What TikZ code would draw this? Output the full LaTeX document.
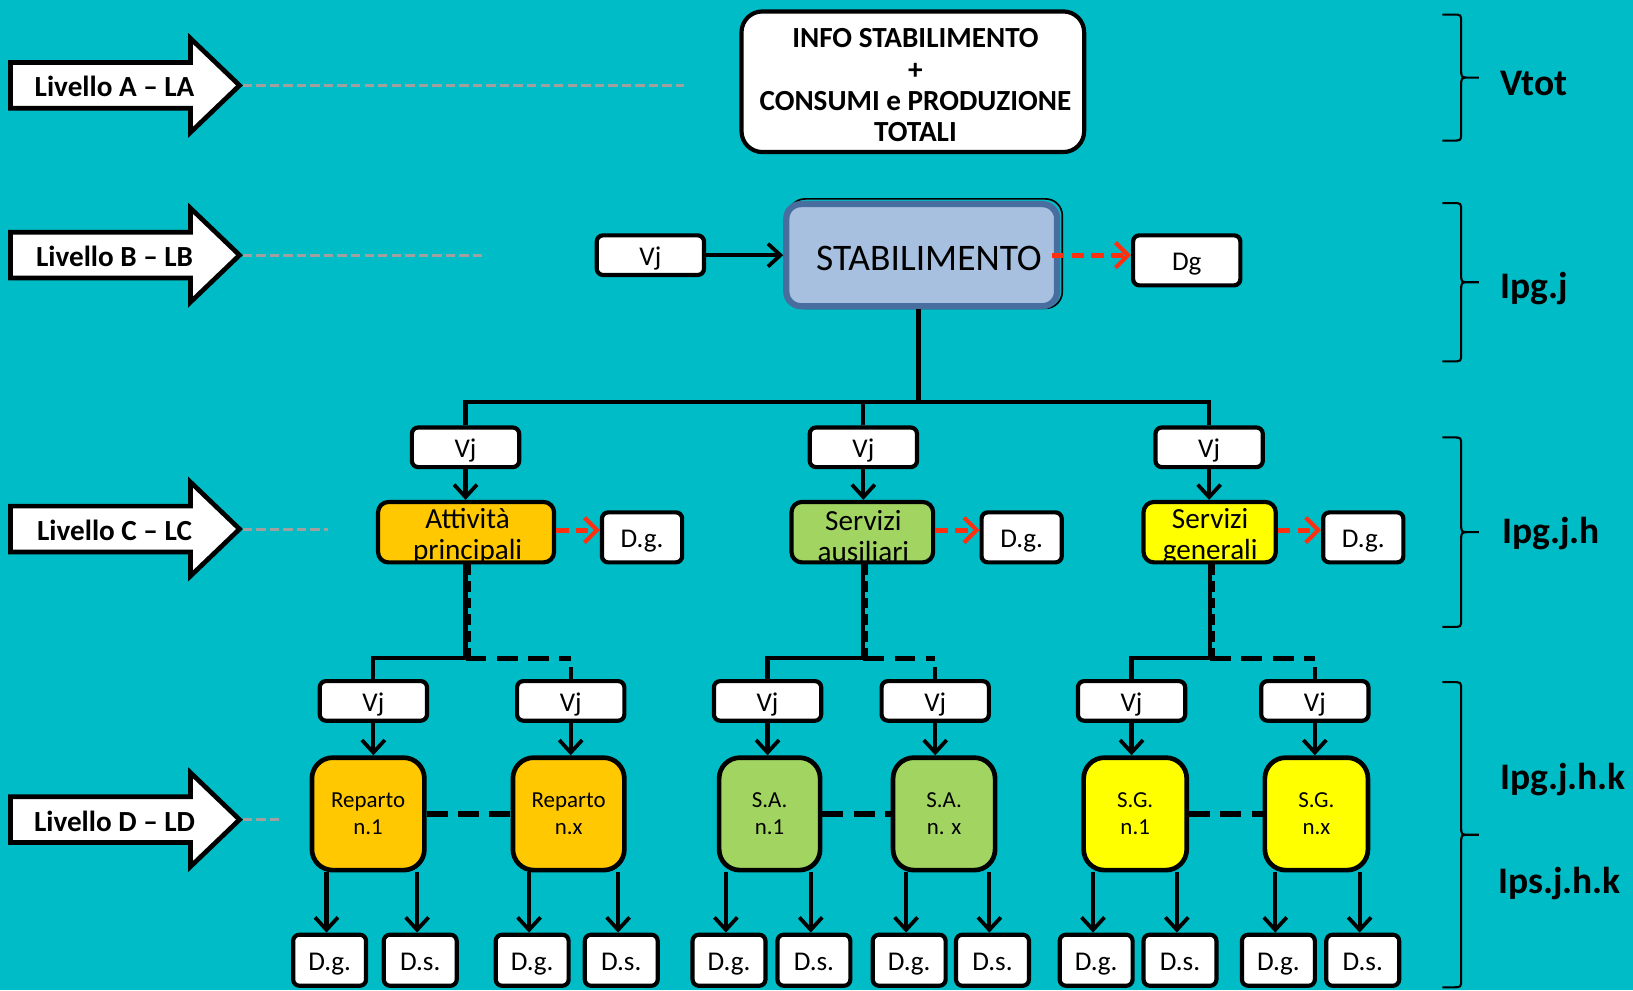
\documentclass[tikz,border=0pt]{standalone}
\usepackage{fontspec}
\setmainfont{Carlito}
\usetikzlibrary{arrows.meta,calc}
\definecolor{bgc}{RGB}{0,188,198}
\definecolor{orangeY}{RGB}{255,200,0}
\definecolor{greenA}{RGB}{162,212,98}
\definecolor{yellowG}{RGB}{255,255,0}
\definecolor{stabfill}{RGB}{168,192,224}
\definecolor{stabline}{RGB}{72,110,160}
\definecolor{redA}{RGB}{255,48,16}
\definecolor{grayL}{RGB}{160,160,160}
\begin{document}
\begin{tikzpicture}[x=0.5pt,y=-0.5pt,
  every node/.style={inner sep=0pt,align=center},
  wbox/.style={draw=black,line width=2pt,fill=white,rounded corners=3pt},
  lowtext/.style={text height=9.8pt,text depth=0pt},
  vjbox/.style={wbox,lowtext,minimum width=51.5pt,minimum height=19pt,font=\fontsize{13pt}{15pt}\selectfont},
  leaf/.style={wbox,lowtext,minimum width=35pt,minimum height=24.5pt,font=\fontsize{13pt}{15pt}\selectfont},
  dgbox/.style={wbox,lowtext,minimum height=24pt,font=\fontsize{13pt}{15pt}\selectfont},
  cbox/.style={draw=black,line width=2pt,rounded corners=5pt,minimum height=29pt},
  ctext/.style={font=\fontsize{14pt}{15pt}\selectfont},
  dbox/.style={draw=black,line width=2.25pt,rounded corners=10pt,minimum height=54pt,font=\fontsize{11pt}{13pt}\selectfont},
  conn/.style={line width=2pt,draw=black},
  arr/.style={conn,-{Straight Barb[length=6pt,width=11pt,line width=1.8pt]}},
  redarr/.style={line width=2.4pt,draw=redA,dash pattern=on 6pt off 3.5pt,-{Straight Barb[length=6pt,width=12pt,line width=2pt,color=redA]}},
  dashv/.style={line width=1.8pt,draw=black,dash pattern=on 5pt off 3pt},
  dashh/.style={line width=2.5pt,draw=black,dash pattern=on 10pt off 5pt},
  grayd/.style={line width=1.4pt,draw=grayL,dash pattern=on 4.5pt off 2pt},
  blockarr/.style={draw=black,fill=white,line width=2.25pt,miter limit=10},
  llab/.style={font=\bfseries\fontsize{14pt}{15pt}\selectfont,anchor=base},
  rlab/.style={font=\bfseries\fontsize{18pt}{20pt}\selectfont,anchor=base west},
  bracest/.style={line width=1pt,draw=black}
]
\fill[bgc] (0,0) rectangle (1568,951);
\useasboundingbox (0,0) rectangle (1568,951);

% ---- level block arrows
\foreach \c/\t/\nm in {82/Livello A -- LA/la, 245/Livello B -- LB/lb, 508/Livello C -- LC/lc, 787/Livello D -- LD/ld}{
  \draw[blockarr] (10,\c-22) -- (183,\c-22) -- (183,\c-45) -- (230,\c) -- (183,\c+45) -- (183,\c+22) -- (10,\c+22) -- cycle;
  \coordinate (tip\nm) at (233,\c);
  \node[llab] (\nm) at (110,\c+11) {\t};
}
\coordinate (ea) at (657,82);
\coordinate (eb) at (465,245);
\coordinate (ec) at (315,508);
\coordinate (ed) at (270,787);
\draw[grayd] (tipla) -- (ea);
\draw[grayd] (tiplb) -- (eb);
\draw[grayd] (tiplc) -- (ec);
\draw[grayd] (tipld) -- (ed);

% ---- level A
\node[wbox,rounded corners=10pt,minimum width=164.5pt,minimum height=67.5pt] (top) at (876.5,78.5) {};
\node[font=\bfseries\fontsize{14pt}{15pt}\selectfont] (topT) at (879,82)
  {INFO STABILIMENTO\\+\\CONSUMI e PRODUZIONE\\TOTALI};

% ---- level B
\draw[black,line width=0.8pt,rounded corners=8pt] (757,191) rectangle (1020,296);
\node[draw=stabline,fill=stabfill,line width=3pt,rounded corners=7pt,minimum width=130pt,minimum height=49pt] (stab) at (885,245) {};
\node[font=\fontsize{18pt}{20pt}\selectfont] (stabT) at (892,248) {STABILIMENTO};
\node[vjbox] (vjB) at (624.5,245) {Vj};
\node[dgbox,minimum width=51.5pt] (dgB) at (1139.5,250) {Dg};
\draw[arr,line width=1.6pt] (vjB.east) -- (vjB.east -| stab.west);
\draw[redarr] ([xshift=-4pt]stab.east) -- (stab.east -| dgB.west);

% ---- level C
\node[vjbox] (vjC1) at (447,429.5) {Vj};
\node[vjbox] (vjC2) at (829,429.5) {Vj};
\node[vjbox] (vjC3) at (1161,429.5) {Vj};
\coordinate (hub) at (882,386);
\draw[conn] (hub |- stab.south) -- (hub);
\draw[conn] (vjC1.north) |- (hub) -| (vjC3.north);
\draw[conn] (vjC2.north) -- (vjC2.north |- hub);

\node[cbox,fill=orangeY,minimum width=84.5pt] (att) at (447.5,511) {};
\node[cbox,fill=greenA,minimum width=68pt] (sa) at (828,511) {};
\node[cbox,fill=yellowG,minimum width=63.5pt] (sg) at (1161.5,511) {};
\node[ctext] (attT) at (449,515) {Attività\\principali};
\node[ctext] (saT) at (829,515) {Servizi\\ausiliari};
\node[ctext] (sgT) at (1162,515) {Servizi\\generali};
\node[dgbox,minimum width=38.5pt] (dgC1) at (616.5,516) {D.g.};
\node[dgbox,minimum width=38.5pt] (dgC2) at (981,516) {D.g.};
\node[dgbox,minimum width=38.5pt] (dgC3) at (1309,516) {D.g.};
\draw[arr] (vjC1.south) -- (vjC1.south |- att.north);
\draw[arr] (vjC2.south) -- (vjC2.south |- sa.north);
\draw[arr] (vjC3.south) -- (vjC3.south |- sg.north);
\draw[redarr] ([yshift=1pt]att.east) -- ([yshift=1pt]att.east -| dgC1.west);
\draw[redarr] ([yshift=1pt]sa.east) -- ([yshift=1pt]sa.east -| dgC2.west);
\draw[redarr] ([yshift=1pt]sg.east) -- ([yshift=1pt]sg.east -| dgC3.west);

% ---- level D
\foreach \i/\x in {1/358.5,2/548,3/737,4/898,5/1086.5,6/1262.5}{
  \node[vjbox] (v\i) at (\x,673) {Vj};
}
\node[dbox,fill=orangeY,minimum width=54pt] (d1) at (353.5,781.5) {Reparto\\n.1};
\node[dbox,fill=orangeY,minimum width=53.5pt] (d2) at (546,781.5) {Reparto\\n.x};
\node[dbox,fill=greenA,minimum width=48.5pt] (d3) at (739,781.5) {S.A.\\n.1};
\node[dbox,fill=greenA,minimum width=49pt] (d4) at (906.5,781.5) {S.A.\\n. x};
\node[dbox,fill=yellowG,minimum width=49.5pt] (d5) at (1090,781.5) {S.G.\\n.1};
\node[dbox,fill=yellowG,minimum width=49.5pt] (d6) at (1264,781.5) {S.G.\\n.x};
\foreach \i in {1,...,6}{
  \draw[arr] (v\i.south) -- (v\i.south |- d\i.north);
}
\draw[dashh] (d1.east) -- (d2.west);
\draw[dashh] (d3.east) -- (d4.west);
\draw[dashh] (d5.east) -- (d6.west);

% branches C -> D
\foreach \p/\hx/\a/\b in {att/447/v1/v2, sa/829/v3/v4, sg/1162/v5/v6}{
  \coordinate (h\p) at (\hx,632);
  \draw[conn] (h\p |- \p.south) -- (h\p) -| (\a.north);
  \draw[dashv] ([xshift=1.5pt]h\p |- \p.south) -- ([xshift=1.5pt]h\p);
  \draw[dashh] (h\p) -- (h\p -| \b.north);
  \draw[conn] (\b.north) -- ++(0,-12);
}

% leaves
\foreach \i/\xa/\xb in {1/316.5/403.5, 2/511/596.5, 3/700/781.5, 4/873/953, 5/1052.5/1133, 6/1227.5/1308.5}{
  \node[leaf] (la\i) at (\xa,922) {D.g.};
  \node[leaf] (lb\i) at (\xb,922) {D.s.};
  \draw[arr] ([xshift=-1.5pt]la\i.north |- d\i.south) -- ([xshift=-1.5pt]la\i.north);
  \draw[arr] ([xshift=-1.5pt]lb\i.north |- d\i.south) -- ([xshift=-1.5pt]lb\i.north);
}

% ---- braces and labels
\foreach \t/\b in {14/135, 195/347, 420/602, 655/948}{
  \pgfmathsetmacro\m{(\t+\b)/2}
  \draw[bracest] (1385,\t) -- (1395,\t) .. controls (1403,\t) .. (1403,\t+8) -- (1403,\m-8)
    .. controls (1403,\m) .. (1411,\m) -- (1420,\m)
    (1411,\m) .. controls (1403,\m) .. (1403,\m+8) -- (1403,\b-8)
    .. controls (1403,\b) .. (1395,\b) -- (1385,\b);
}
\node[rlab] (rv) at (1440,92) {Vtot};
\node[rlab] (r1) at (1440,287) {Ipg.j};
\node[rlab] (r2) at (1442,522) {Ipg.j.h};
\node[rlab] (r3) at (1440,758) {Ipg.j.h.k};
\node[rlab] (r4) at (1438,858) {Ips.j.h.k};
\end{tikzpicture}
\end{document}
